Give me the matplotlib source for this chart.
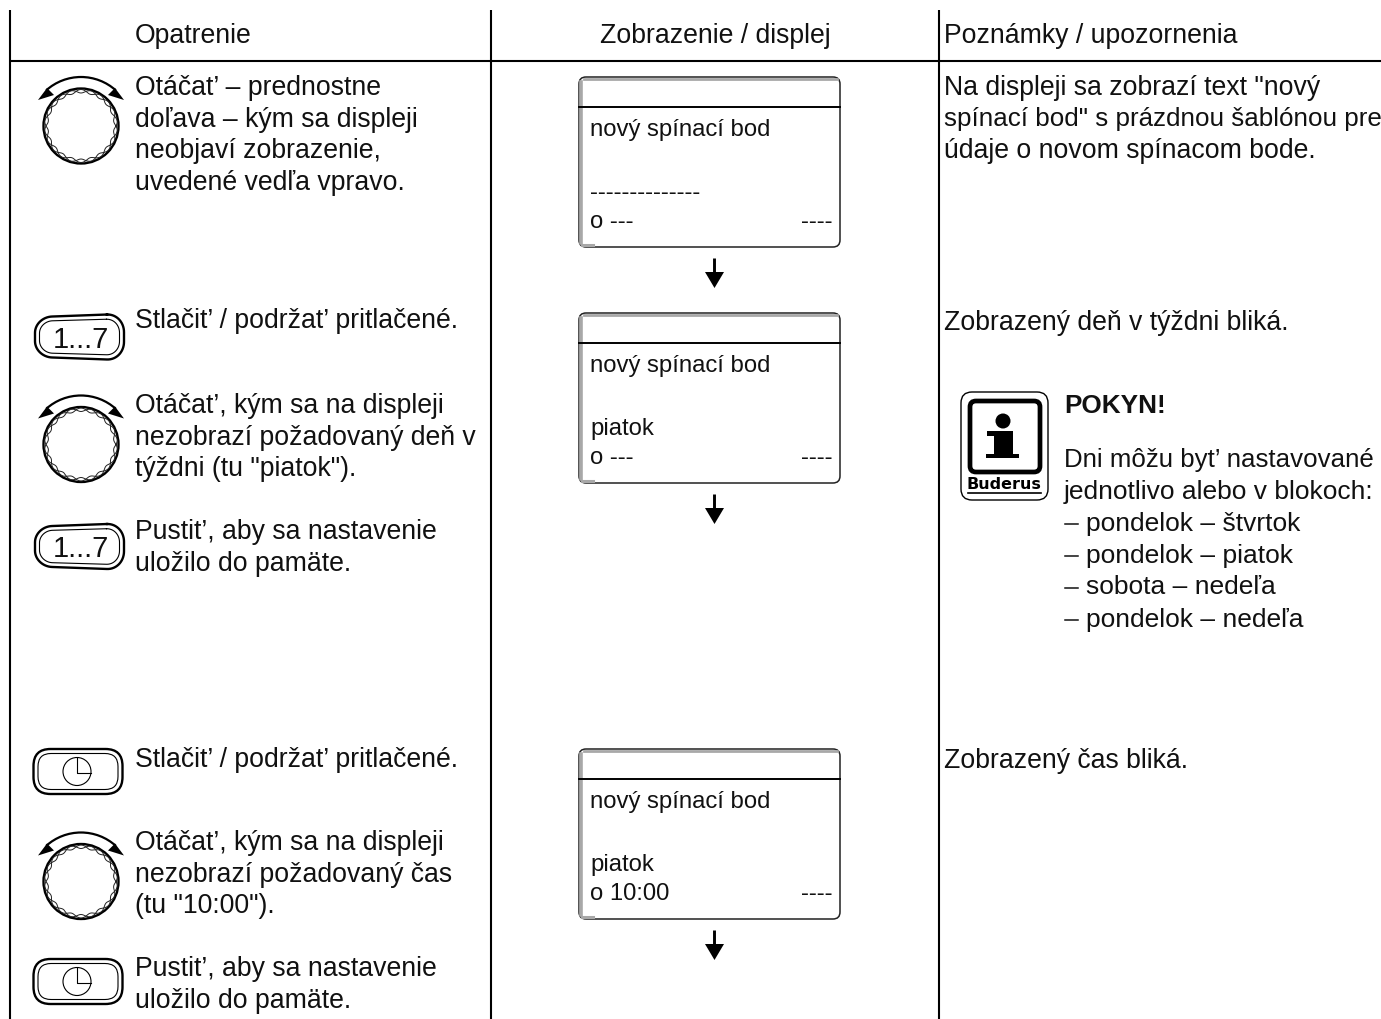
import numpy as np
import matplotlib
matplotlib.use('Agg')
import matplotlib.pyplot as plt
from matplotlib.patches import Circle, FancyBboxPatch, Arc, Polygon, Rectangle

plt.rcParams['font.family'] = ['Liberation Sans', 'DejaVu Sans']

# Texts of the table
headers = ['Opatrenie', 'Zobrazenie / displej', 'Poznámky / upozornenia']
step_texts = [
    'Otáčat\u2019 – prednostne\ndoľava – kým sa displeji\nneobjaví zobrazenie,\nuvedené vedľa vpravo.',
    'Stlačit\u2019 / podržat\u2019 pritlačené.',
    'Otáčat\u2019, kým sa na displeji\nnezobrazí požadovaný deň v\ntýždni (tu "piatok").',
    'Pustit\u2019, aby sa nastavenie\nuložilo do pamäte.',
    'Stlačit\u2019 / podržat\u2019 pritlačené.',
    'Otáčat\u2019, kým sa na displeji\nnezobrazí požadovaný čas\n(tu "10:00").',
    'Pustit\u2019, aby sa nastavenie\nuložilo do pamäte.',
]
display_title = 'nový spínací bod'
display_days = ['--------------', 'piatok', 'piatok']
display_times = ['o ---', 'o ---', 'o 10:00']
display_end = '----'
note_lines = ['Na displeji sa zobrazí text "nový', 'spínací bod" s prázdnou šablónou pre',
              'údaje o novom spínacom bode.']
note_day = 'Zobrazený deň v týždni bliká.'
note_time = 'Zobrazený čas bliká.'
hint_title = 'POKYN!'
hint_lines = ['Dni môžu byt\u2019 nastavované', 'jednotlivo alebo v blokoch:']
hint_items = ['pondelok – štvrtok', 'pondelok – piatok', 'sobota – nedeľa', 'pondelok – nedeľa']
button_label = '1...7'
logo_label = 'Buderus'

FS = 19.2
FS_DISPLAY = 17.2
LINE = 31.6

fig = plt.figure(figsize=(13.81, 10.19), dpi=100)
ax = fig.add_axes([0, 0, 1, 1])
ax.set_xlim(0, 1381)
ax.set_ylim(1019, 0)
ax.axis('off')


def put(x, y, s, **kw):
    # y is the text baseline
    kw.setdefault('fontsize', FS)
    kw.setdefault('va', 'baseline')
    kw.setdefault('color', '#111111')
    ax.text(x, y, s, **kw)


def block(x, y, s, **kw):
    for i, line in enumerate(s.split('\n')):
        put(x, y + i * LINE, line, **kw)


def knob(cx, cy):
    ax.add_patch(Circle((cx, cy), 37.5, fill=False, ec='black', lw=1.7))
    # small lens shaped bumps inside the ring
    t = np.linspace(0, 2 * np.pi, 900)
    bump = np.abs(np.sin(t * 11))
    for r in [35 + 1.5 * bump, 35 - 2.0 * bump]:
        ax.plot(cx + r * np.cos(t), cy + r * np.sin(t), color='#222222', lw=0.7)
    # arc over the knob with two heads
    ax.add_patch(Arc((cx, cy + 3), 104, 104, theta1=270 - 42, theta2=270 + 42, ec='black', lw=1.6))
    for side in [-1, 1]:
        ax.add_patch(Polygon([(cx + side * 43, cy - 26), (cx + side * 34, cy - 38), (cx + side * 27, cy - 31)],
                             color='black', lw=0))


def rounded(x0, x1, y0, y1, r):
    # outline of a rounded box as points
    a = np.linspace(0, np.pi / 2, 16)
    pts = []
    for cx, cy, start in [(x1 - r, y0 + r, -np.pi / 2), (x1 - r, y1 - r, 0),
                          (x0 + r, y1 - r, np.pi / 2), (x0 + r, y0 + r, np.pi)]:
        pts.append(np.column_stack([cx + r * np.cos(start + a), cy + r * np.sin(start + a)]))
    pts = np.vstack(pts)
    return np.vstack([pts, pts[0]])


def button_num(cy):
    # the box is a little higher at its right side
    for inset, r, lw in [(0, 17, 1.7), (4.5, 13, 0.8)]:
        pts = rounded(35 + inset, 124 - inset, cy - 21.5 + inset, cy + 21.5 - inset, r)
        pts[:, 1] = cy + (pts[:, 1] - cy) * (1 + (pts[:, 0] - 80) * 0.0017)
        ax.plot(pts[:, 0], pts[:, 1], color='black', lw=lw)
    put(81, cy + 10.5, button_label, ha='center', fontsize=21)


def button_clock(cy):
    ax.add_patch(FancyBboxPatch((33.5, cy - 22.5), 89, 45, boxstyle='round,pad=0,rounding_size=17',
                                fill=False, ec='black', lw=1.7))
    ax.add_patch(FancyBboxPatch((38, cy - 18), 80, 36, boxstyle='round,pad=0,rounding_size=13',
                                fill=False, ec='black', lw=0.8))
    ax.add_patch(Circle((77, cy), 14, fill=False, ec='black', lw=0.8))
    ax.plot([77, 77, 91], [cy - 14, cy + 1, cy + 1], color='black', lw=0.8)


def display(top, day, time):
    x0, x1 = 579, 840
    h = 170
    ax.add_patch(FancyBboxPatch((x0, top), x1 - x0, h, boxstyle='round,pad=0,rounding_size=7',
                                fc='white', ec='#222222', lw=1.1, zorder=2))
    # grey inner shadow at left and top
    ax.plot([x0 + 2.5, x0 + 2.5], [top + 5, top + h - 4], color='#a8a8a8', lw=2.6, zorder=3)
    ax.plot([x0 + 5, x1 - 3], [top + 2, top + 2], color='#a8a8a8', lw=2.0, zorder=3)
    ax.plot([x0 + 3, x0 + 14], [top + h - 2, top + h - 2], color='#a8a8a8', lw=2.2, zorder=3)
    ax.plot([x0, x1], [top + 30, top + 30], color='black', lw=1.4, zorder=3)
    put(590, top + 59, display_title, fontsize=FS_DISPLAY, zorder=4)
    put(590, top + 122, day, fontsize=FS_DISPLAY, zorder=4)
    put(590, top + 151, time, fontsize=FS_DISPLAY, zorder=4)
    put(833, top + 151, display_end, ha='right', fontsize=FS_DISPLAY, zorder=4)
    # arrow under the display
    ax.plot([714.5, 714.5], [top + 181, top + 197], color='black', lw=2.1, solid_capstyle='butt')
    ax.add_patch(Polygon([(705, top + 195), (724, top + 195), (714.5, top + 211)], color='black', lw=0))


def logo(x0, y0):
    ax.add_patch(FancyBboxPatch((x0, y0), 87, 108, boxstyle='round,pad=0,rounding_size=11',
                                fill=False, ec='black', lw=1.0))
    ax.add_patch(FancyBboxPatch((x0 + 9, y0 + 9), 70, 71, boxstyle='round,pad=0,rounding_size=6',
                                fill=False, ec='black', lw=3.4))
    cx = x0 + 42
    ax.add_patch(Circle((cx, y0 + 29), 7.5, color='black', lw=0))
    ax.add_patch(Rectangle((cx - 9, y0 + 39), 19, 25, color='black', lw=0))
    ax.add_patch(Rectangle((cx - 16, y0 + 39), 8, 5, color='black', lw=0))
    ax.add_patch(Rectangle((cx - 17, y0 + 62), 33, 4, color='black', lw=0))
    put(cx + 0.5, y0 + 97, logo_label, ha='center', fontsize=11.5, fontweight='bold', color='black',
        family='DejaVu Sans')
    ax.plot([x0 + 7, x0 + 80], [y0 + 100.5, y0 + 100.5], color='black', lw=1.2)


# Table lines
for x in [10, 491, 939]:
    ax.plot([x, x], [10, 1019], color='black', lw=1.5, solid_capstyle='butt')
ax.plot([10, 1381], [61, 61], color='black', lw=1.5, solid_capstyle='butt')

# Header row
put(135, 43, headers[0])
put(715, 43, headers[1], ha='center')
put(944, 43, headers[2])

# First column
for y in [126, 444.5, 881.5]:
    knob(81, y)
button_num(337)
button_num(546.5)
button_clock(771.5)
button_clock(981.5)

step_ys = [95, 328, 413, 539, 767, 850, 976]
for y, s in zip(step_ys, step_texts):
    block(135, y, s)

# Middle column
for top, day, time in zip([77, 313, 749], display_days, display_times):
    display(top, day, time)

# Last column
put(944, 94.5, note_lines[0])
put(944, 126, note_lines[1], fontsize=18.7)
put(944, 158, note_lines[2])
put(944, 330, note_day)
put(944, 768, note_time)

logo(961, 392)
put(1064, 413, hint_title, fontweight='bold', fontsize=18.8)
put(1064, 467, hint_lines[0], fontsize=18.6)
put(1064, 498.5, hint_lines[1], fontsize=19)
for y, item in zip([531, 563, 594.5, 626.5], hint_items):
    ax.plot([1065, 1078], [y - 7, y - 7], color='#111111', lw=1.1)
    put(1086, y, item, fontsize=19)

fig.savefig('out.png', dpi=100)
